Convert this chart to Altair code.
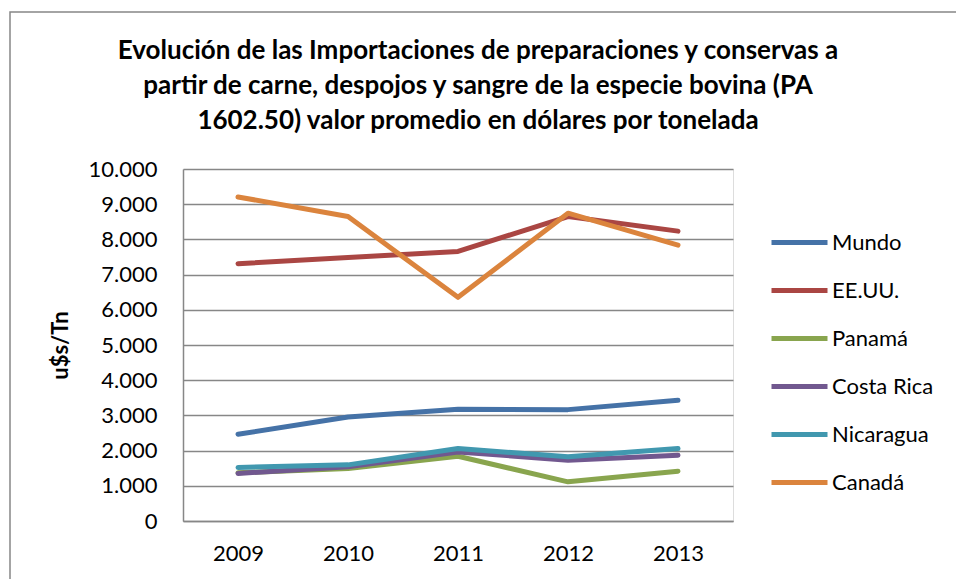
import altair as alt
import pandas as pd

years = ["2009", "2010", "2011", "2012", "2013"]
series = ["Mundo", "EE.UU.", "Panamá", "Costa Rica", "Nicaragua", "Canadá"]
mundo = [2465, 2955, 3173, 3164, 3428]
eeuu = [7309, 7487, 7657, 8649, 8235]
panama = [1370, 1493, 1841, 1113, 1416]
costa_rica = [1351, 1540, 1963, 1728, 1870]
nicaragua = [1521, 1595, 2059, 1822, 2059]
canada = [9207, 8649, 6354, 8745, 7838]
colors = ["#4572A7", "#AA4643", "#89A54E", "#71588F", "#4198AF", "#DB843D"]

values = [mundo, eeuu, panama, costa_rica, nicaragua, canada]
rows = []
for si, (name, vals) in enumerate(zip(series, values)):
    for y, v in zip(years, vals):
        rows.append({"Año": y, "Serie": name, "Valor": v, "orden": si})
df = pd.DataFrame(rows)

FONT = "Lato"

lines = alt.Chart(df).mark_line(strokeWidth=5, strokeCap="round", strokeJoin="round").encode(
    x=alt.X("Año:N", sort=years, title=None,
            axis=alt.Axis(labelAngle=0, labelFontSize=22, labelFont=FONT, labelColor="#000000",
                          ticks=False, domainColor="#878787", domainWidth=1.5, labelPadding=22,
                          grid=False)),
    y=alt.Y("Valor:Q", scale=alt.Scale(domain=[0, 10000]),
            title="u$s/Tn",
            axis=alt.Axis(values=list(range(0, 10001, 1000)), labelFontSize=22, labelFont=FONT,
                          labelColor="#000000", ticks=False, labelPadding=26,
                          labelExpr="replace(format(datum.value, ','), ',', '.')",
                          domainColor="#878787", domainWidth=1.5,
                          gridColor="#878787", gridWidth=1.5,
                          titleFont=FONT, titleFontSize=22, titleFontWeight="bold",
                          titleColor="#000000", titleX=-123, titleY=176, titleAngle=270,
                          titleBaseline="middle", titleAlign="center")),
    color=alt.Color("Serie:N", sort=series, scale=alt.Scale(domain=series, range=colors),
                    legend=alt.Legend(title=None, orient="none", legendX=586, legendY=43,
                                      symbolType="stroke", symbolSize=3136, symbolStrokeWidth=5,
                                      labelFont=FONT, labelFontSize=22, labelColor="#000000",
                                      rowPadding=6, labelOffset=2)),
    order=alt.Order("orden:Q"),
    detail="Serie:N",
)

frame = alt.Chart(pd.DataFrame({"a": [0]})).mark_rect(
    fill=None, stroke="#878787", strokeWidth=1.5
).encode(
    x=alt.value(-173), x2=alt.value(800),
    y=alt.value(-157), y2=alt.value(440),
)

chart = alt.layer(frame, lines).properties(
    width=550,
    height=352,
    autosize=alt.AutoSizeParams(type="none"),
    padding={"left": 183, "top": 169, "right": 223, "bottom": 58},
    title=alt.TitleParams(
        text=["Evolución de las Importaciones de preparaciones y conservas a",
              "partir de carne, despojos y sangre  de la especie bovina (PA",
              "1602.50)  valor promedio en dólares por tonelada"],
        font=FONT, fontSize=26, fontWeight="bold", color="#000000",
        anchor="middle", frame="group", lineHeight=35, offset=34, dx=20, dy=157,
    ),
).configure_view(stroke=None).configure(background="white")

chart.save("out.html", embed_options={"renderer": "svg", "actions": False})
